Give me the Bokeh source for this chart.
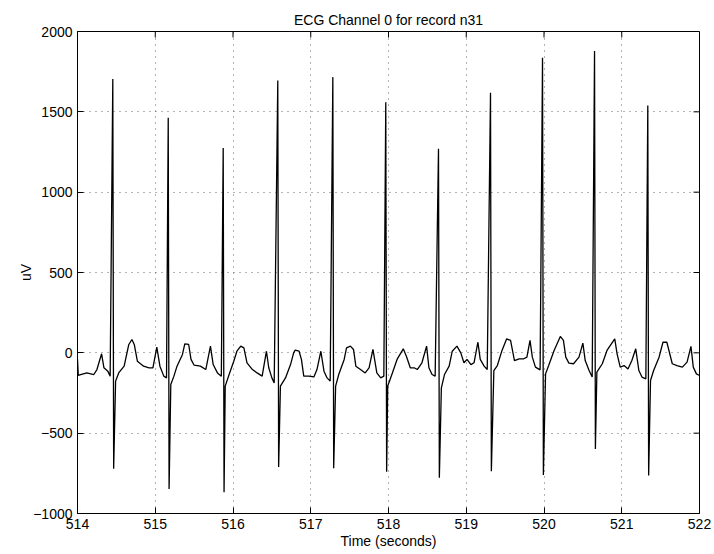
from bokeh.plotting import figure
from bokeh.models import Range1d, FixedTicker
from bokeh.embed import file_html
from bokeh.resources import INLINE

# ---- data ----
title_text = "ECG Channel 0 for record n31"
x_ticks = [514, 515, 516, 517, 518, 519, 520, 521, 522]
y_ticks = [-1000, -500, 0, 500, 1000, 1500, 2000]

# slow wave vertices (time in s, value in uV)
wave_t = [514.00, 514.01, 514.04, 514.12, 514.21, 514.25, 514.31, 514.34, 514.39, 514.42,
          514.49, 514.53, 514.60, 514.66, 514.70, 514.73, 514.77, 514.81, 514.85, 514.92, 514.97, 515.02, 515.06, 515.11, 515.145,
          515.20, 515.24, 515.28, 515.35, 515.38, 515.43, 515.46, 515.50, 515.58, 515.65, 515.71, 515.745, 515.80, 515.85,
          515.90, 515.95, 516.01, 516.05, 516.10, 516.14, 516.18, 516.25, 516.31, 516.375, 516.43, 516.46, 516.50, 516.53,
          516.61, 516.675, 516.74, 516.78, 516.80, 516.85, 516.88, 516.91, 516.975, 517.04, 517.08, 517.13, 517.17, 517.21, 517.25,
          517.32, 517.36, 517.43, 517.46, 517.51, 517.55, 517.58, 517.64, 517.70, 517.75, 517.80, 517.85, 517.90, 517.94,
          517.99, 518.05, 518.11, 518.19, 518.23, 518.28, 518.33, 518.37, 518.43, 518.49, 518.52, 518.56, 518.60,
          518.68, 518.72, 518.78, 518.82, 518.88, 518.93, 518.97, 519.01, 519.06, 519.10, 519.15, 519.18, 519.23, 519.27,
          519.355, 519.40, 519.46, 519.52, 519.57, 519.62, 519.68, 519.74, 519.78, 519.82, 519.85, 519.89, 519.95,
          520.02, 520.06, 520.13, 520.21, 520.25, 520.28, 520.32, 520.38, 520.45, 520.50, 520.53, 520.58, 520.62,
          520.68, 520.75, 520.81, 520.91, 520.94, 520.98, 521.03, 521.08, 521.13, 521.18, 521.22, 521.26, 521.31,
          521.37, 521.41, 521.48, 521.53, 521.58, 521.65, 521.71, 521.78, 521.84, 521.89, 521.92, 521.96, 522.00]
wave_uv = [-40, -140, -135, -125, -135, -104, -6, -93, -114, -145,
           -176, -125, -83, 52, 83, 52, -52, -68, -83, -93, -93, 35, -83, -145, -156,
           -197, -145, -83, -10, 56, 52, -41, -77, -83, -104, 42, -73, -125, -145,
           -207, -135, -52, 10, 42, 31, -62, -104, -125, -145, 10, -93, -156, -187,
           -207, -156, -73, 0, 17, 10, -41, -145, -145, -150, -104, 10, -114, -156, -176,
           -207, -135, -41, 31, 42, 21, -83, -104, -125, -93, 21, -125, -156, -145,
           -207, -125, -41, 25, -21, -93, -93, -104, -62, 42, -93, -135, -145,
           -218, -135, -83, 10, 42, 0, -62, -41, -73, -62, 66, -41, -83, -104,
           -110, -79, 15, 87, 77, -48, -37, -37, -27, 77, -27, -89, -106,
           -131, -79, 15, 102, 77, -27, -64, -68, -27, 60, -48, -110, -151,
           -120, -68, 15, 87, -6, -89, -79, -100, -48, 25, -110, -151, -162,
           -172, -110, -27, 66, 66, -68, -79, -89, -58, 40, -89, -131, -141]

# R peaks and S troughs
r_t = [514.454, 515.167, 515.874, 516.576, 517.284, 517.965, 518.643, 519.312, 519.981, 520.650, 521.335]
r_uv = [1705, 1463, 1275, 1695, 1716, 1560, 1270, 1619, 1837, 1878, 1540]
s_t = [514.465, 515.178, 515.885, 516.587, 517.295, 517.976, 518.654, 519.323, 519.992, 520.661, 521.346]
s_uv = [-722, -847, -868, -710, -718, -740, -778, -737, -760, -598, -764]

pts = sorted(zip(wave_t + r_t + s_t, wave_uv + r_uv + s_uv))
xs = [p_[0] for p_ in pts]
ys = [p_[1] for p_ in pts]

FONT = "Liberation Sans"

p = figure(width=714, height=554, output_backend="svg", toolbar_location=None,
           x_range=Range1d(514, 522), y_range=Range1d(-1000, 2000),
           min_border_left=77, min_border_right=15, min_border_top=31, min_border_bottom=41,
           background_fill_color="white", border_fill_color="white")

p.title.text = title_text
p.title.align = "center"
p.title.text_font = FONT
p.title.text_font_size = "14px"
p.title.text_font_style = "normal"
p.title.text_color = "black"
p.title.standoff = 7

p.line(xs, ys, line_color="black", line_width=1.3)

p.outline_line_color = "black"
p.outline_line_width = 1

for ax in (p.xaxis[0], p.yaxis[0]):
    ax.major_tick_in = 6
    ax.major_tick_out = 0
    ax.minor_tick_line_color = None
    ax.axis_line_color = "black"
    ax.major_tick_line_color = "black"
    ax.major_label_text_font = FONT
    ax.major_label_text_font_size = "14px"
    ax.major_label_text_color = "black"
    ax.axis_label_text_font = FONT
    ax.axis_label_text_font_size = "14px"
    ax.axis_label_text_font_style = "normal"
    ax.axis_label_text_color = "black"

p.xaxis[0].ticker = FixedTicker(ticks=x_ticks)
p.yaxis[0].ticker = FixedTicker(ticks=y_ticks)
p.xaxis[0].axis_label = "Time (seconds)"
p.yaxis[0].axis_label = "uV"
p.xaxis[0].major_label_standoff = 5
p.xaxis[0].axis_label_standoff = 1
p.yaxis[0].major_label_standoff = 5
p.yaxis[0].axis_label_standoff = -4

# inward tick marks on the top and right edges of the box (6 px long)
top_len = 6 * (2000 - (-1000)) / 482
right_len = 6 * (522 - 514) / 622
p.segment(x0=x_ticks, y0=[2000] * len(x_ticks), x1=x_ticks, y1=[2000 - top_len] * len(x_ticks),
          line_color="black", line_width=1)
p.segment(x0=[522] * len(y_ticks), y0=y_ticks, x1=[522 - right_len] * len(y_ticks), y1=y_ticks,
          line_color="black", line_width=1)

p.xgrid.ticker = FixedTicker(ticks=x_ticks)
p.ygrid.ticker = FixedTicker(ticks=y_ticks)
for g in (p.xgrid[0], p.ygrid[0]):
    g.grid_line_color = "#666666"
    g.grid_line_dash = "1 5"
    g.grid_line_width = 1

open("out.html", "w").write(file_html(p, INLINE))
